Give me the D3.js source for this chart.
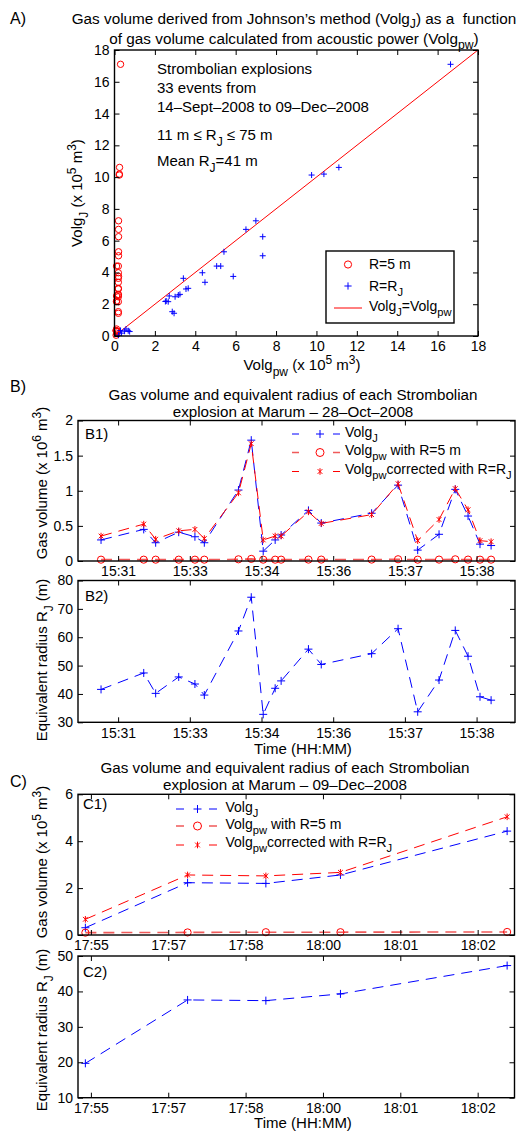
<!DOCTYPE html>
<html><head><meta charset="utf-8">
<script src="https://cdn.jsdelivr.net/npm/d3@7"></script>
<style>
body{margin:0;background:#fff}
svg{display:block;background:#fff}
text{font-family:"Liberation Sans",Arial,Helvetica,sans-serif;white-space:pre;fill:#000}
</style>
</head><body>
<script>
// ================= DATA =================
// Panel A : all 33 events (x 10^5 m^3)
const aVolgPwCorr = [3.54,5.26,3.16,4.35,4.48,3.24,9.76,16.64,2.95,3.65,3.41,7.0,5.42,6.51,11.11,2.86,5.88,10.37,7.34,3.0,2.66,
                     0.68,2.56,2.52,2.71,5.06, 7.34,0.2,0.35,0.3,0.5,0.57,0.75];
const aVolgJ      = [2.96,4.40,2.58,3.98,3.38,2.62,10.13,17.1,1.43,3.0,3.63,7.25,5.30,6.71,10.61,1.53,3.75,10.19,6.25,2.47,2.16,
                     0.33,2.2,2.17,2.52,4.40, 5.05,0.05,0.18,0.35,0.3,0.44,0.28];
const aVolgPw5    = [0.19,0.19,0.19,0.19,0.19,0.19,0.24,0.3,0.19,0.19,0.19,0.2,0.2,0.2,0.25,0.19,0.2,0.24,0.2,0.19,0.19,
                     0.08,0.1,0.1,0.1,0.1, 0.2,0.08,0.1,0.08,0.12,0.1,0.12];
const aTicks = [0,2,4,6,8,10,12,14,16,18];

// Panel B : Marum 28-Oct-2008
const bTimes = ["15:31:04","15:31:54","15:32:08","15:32:35","15:32:54","15:33:05","15:33:45","15:34:00","15:34:14","15:34:28","15:34:35",
                "15:35:07","15:35:22","15:36:21","15:36:52","15:37:15","15:37:40","15:37:59","15:38:14","15:38:28","15:38:41"];
const bVolgJ      = [0.30,0.45,0.26,0.41,0.345,0.26,1.01,1.72,0.14,0.30,0.37,0.72,0.54,0.68,1.08,0.155,0.38,1.02,0.64,0.24,0.22]; // x10^6
const bVolgPw5    = [0.019,0.019,0.019,0.019,0.019,0.019,0.024,0.03,0.019,0.019,0.019,0.02,0.02,0.02,0.025,0.019,0.02,0.024,0.02,0.019,0.019];
const bVolgPwCorr = [0.355,0.525,0.31,0.43,0.45,0.32,0.97,1.67,0.30,0.355,0.355,0.70,0.535,0.66,1.10,0.29,0.59,1.03,0.73,0.29,0.275];
const bRadius     = [41.6,47.4,40.2,46.0,43.5,39.6,62.2,74.1,32.8,42.0,44.6,55.8,50.4,54.2,63.0,33.7,44.9,62.4,53.3,39.0,37.8];
const bTimeDomain = ["15:30:37","15:39:09"];
const bTickTimes  = ["15:31:24","15:32:48","15:34:12","15:35:36","15:37:00","15:38:24"];
const bTickLabels = ["15:31","15:33","15:34","15:36","15:37","15:38"];
const b1Ticks = [0,0.5,1,1.5,2];
const b2Ticks = [30,40,50,60,70,80];

// Panel C : Marum 09-Dec-2008
const cTimes = ["17:55:18","17:57:09","17:58:34","17:59:55","18:02:56"];
const cVolgJ      = [0.31,2.23,2.20,2.56,4.43]; // x10^5
const cVolgPw5    = [0.10,0.11,0.12,0.12,0.13];
const cVolgPwCorr = [0.67,2.56,2.52,2.67,5.04];
const cRadius     = [19.7,37.6,37.4,39.3,47.3];
const cTimeDomain = ["17:55:10","18:03:04"];
const cTickTimes  = ["17:55:24","17:56:48","17:58:12","17:59:36","18:01:00","18:02:24"];
const cTickLabels = ["17:55","17:57","17:58","18:00","18:01","18:02"];
const c1Ticks = [0,2,4,6];
const c2Ticks = [10,20,30,40,50];

// ================= DRAWING =================
const W = 517, H = 1131;
const BLUE = "#0000ff", RED = "#ff0000", PINK = "#f05a5a";
const svg = d3.select("body").append("svg").attr("width", W).attr("height", H);
const parseT = d3.timeParse("%H:%M:%S");

function tex(sel, str, size, subShift) {
  const parts = str.split(/(_\{[^}]*\}|\^\{[^}]*\})/).filter(s => s.length);
  let cur = 0;
  parts.forEach(p => {
    let mode = 0, t = p;
    if (p.startsWith("_{")) { mode = 1; t = p.slice(2, -1); }
    else if (p.startsWith("^{")) { mode = -1; t = p.slice(2, -1); }
    const target = mode === 1 ? size * (subShift || 0.38) : mode === -1 ? -size * 0.42 : 0;
    sel.append("tspan").attr("dy", target - cur).attr("font-size", mode ? size * 0.8 : size).text(t);
    cur = target;
  });
}
function label(x, y, str, size, anchor, rot, subShift) {
  const t = svg.append("text").attr("font-size", size).attr("text-anchor", anchor || "start");
  if (rot) t.attr("transform", `translate(${x},${y}) rotate(${rot})`);
  else t.attr("x", x).attr("y", y);
  tex(t, str, size, subShift);
  return t;
}

function axes(box, xs, ys, xTicks, xFmt, yTicks) {
  const g = svg.append("g");
  const style = sel => { sel.select(".domain").remove(); sel.attr("font-size", 14).attr("font-family", null);
    sel.selectAll("line").attr("stroke", "#000"); };
  g.append("g").attr("transform", `translate(0,${box.y1})`)
    .call(d3.axisBottom(xs).tickValues(xTicks).tickFormat(xFmt).tickSize(-5).tickPadding(5.5)).call(style);
  g.append("g").attr("transform", `translate(0,${box.y0})`)
    .call(d3.axisTop(xs).tickValues(xTicks).tickFormat("").tickSize(-5)).call(style);
  g.append("g").attr("transform", `translate(${box.x0},0)`)
    .call(d3.axisLeft(ys).tickValues(yTicks).tickFormat(d => String(d)).tickSize(-5).tickPadding(5)).call(style);
  g.append("g").attr("transform", `translate(${box.x1},0)`)
    .call(d3.axisRight(ys).tickValues(yTicks).tickFormat("").tickSize(-5)).call(style);
  g.selectAll("text").attr("fill", "#000");
  g.append("rect").attr("x", box.x0).attr("y", box.y0).attr("width", box.x1 - box.x0).attr("height", box.y1 - box.y0)
    .attr("fill", "none").attr("stroke", "#000").attr("stroke-width", 1.4);
}

function plus(g, x, y, s, c) {
  g.append("path").attr("d", `M${x - s},${y}H${x + s}M${x},${y - s}V${y + s}`).attr("stroke", c).attr("stroke-width", 1).attr("fill", "none");
}
function star(g, x, y, s, c) {
  const d = s * 0.72;
  g.append("path").attr("d", `M${x - d},${y - d}L${x + d},${y + d}M${x - d},${y + d}L${x + d},${y - d}M${x},${y - s}V${y + s}`)
    .attr("stroke", c).attr("stroke-width", 1).attr("fill", "none");
}
function circ(g, x, y, r, c) {
  g.append("circle").attr("cx", x).attr("cy", y).attr("r", r).attr("fill", "none").attr("stroke", c).attr("stroke-width", 1);
}

function series(g, xs, ys, times, vals, color, width, dash, marker, msize) {
  const pts = times.map((t, i) => [xs(parseT(t)), ys(vals[i])]);
  g.append("path").attr("d", d3.line()(pts)).attr("fill", "none").attr("stroke", color)
    .attr("stroke-width", width).attr("stroke-dasharray", dash);
  pts.forEach(p => marker(g, p[0], p[1], msize, color === PINK ? RED : color));
}

function legendRow(x0, xm, x1, yLine, yText, color, width, marker, msize, str, gapDash) {
  const g = svg.append("g");
  g.append("line").attr("x1", x0).attr("x2", x1).attr("y1", yLine).attr("y2", yLine)
    .attr("stroke", color).attr("stroke-width", width).attr("stroke-dasharray", gapDash);
  marker(g, xm, yLine, msize, color === PINK ? RED : color);
  label(x1 + 5, yText, str, 14, "start");
}

// ---------- Panel A ----------
const A = {x0: 114.5, x1: 478, y0: 50, y1: 336};
const ax = d3.scaleLinear().domain([0, 18]).range([A.x0, A.x1]);
const ay = d3.scaleLinear().domain([0, 18]).range([A.y1, A.y0]);
const gA = svg.append("g");
gA.append("line").attr("x1", ax(0)).attr("y1", ay(0)).attr("x2", ax(18)).attr("y2", ay(18)).attr("stroke", RED).attr("stroke-width", 1);
aVolgPw5.forEach((v, i) => circ(gA, ax(v), ay(aVolgJ[i]), 3.2, RED));
aVolgPwCorr.forEach((v, i) => plus(gA, ax(v), ay(aVolgJ[i]), 3, BLUE));
axes(A, ax, ay, aTicks, d => String(d), aTicks);

label(10, 24, "A)", 16, "start");
label(294, 23.5, "Gas volume derived from Johnson’s method (Volg_{J}) as a  function", 15.3, "middle", null, 0.28);
label(294, 44, "of gas volume calculated from acoustic power (Volg_{pw})", 15.3, "middle", null, 0.3);
label(157, 74, "Strombolian explosions", 15, "start");
label(157, 93, "33 events from", 15, "start");
label(157, 112, "14–Sept–2008 to 09–Dec–2008", 15, "start");
label(157, 140, "11 m ≤ R_{J} ≤ 75 m", 15, "start");
label(157, 166, "Mean R_{J}=41 m", 15, "start");
label(82, 193, "Volg_{J} (x 10^{5} m^{3})", 15, "middle", -90);
label(302, 370, "Volg_{pw} (x 10^{5} m^{3})", 15, "middle");

// legend A
svg.append("rect").attr("x", 326).attr("y", 251).attr("width", 128).attr("height", 72)
  .attr("fill", "#fff").attr("stroke", "#000").attr("stroke-width", 1.4);
circ(svg, 348, 264.5, 3.6, RED);
label(369, 269, "R=5 m", 14, "start");
plus(svg, 348, 286, 3.6, BLUE);
label(369, 291, "R=R_{J}", 14, "start");
svg.append("line").attr("x1", 334).attr("x2", 362).attr("y1", 308).attr("y2", 308).attr("stroke", RED).attr("stroke-width", 1);
label(369, 311, "Volg_{J}=Volg_{pw}", 14, "start");

// ---------- Panel B ----------
const B1 = {x0: 78, x1: 515, y0: 420.5, y1: 561};
const B2 = {x0: 78, x1: 515, y0: 580.5, y1: 722.3};
const bx = d3.scaleTime().domain(bTimeDomain.map(parseT)).range([B1.x0, B1.x1]);
const b1y = d3.scaleLinear().domain([0, 2]).range([B1.y1, B1.y0]);
const b2y = d3.scaleLinear().domain([30, 80]).range([B2.y1, B2.y0]);
const bTicksT = bTickTimes.map(parseT);
const bFmt = (d, i) => bTickLabels[i];
const DASH = "11,7";

const gB1 = svg.append("g");
series(gB1, bx, b1y, bTimes, bVolgJ, BLUE, 1, DASH, plus, 4);
series(gB1, bx, b1y, bTimes, bVolgPw5, PINK, 1.6, DASH, circ, 3.6);
series(gB1, bx, b1y, bTimes, bVolgPwCorr, RED, 1, DASH, star, 3.3);
axes(B1, bx, b1y, bTicksT, bFmt, b1Ticks);

const gB2 = svg.append("g");
series(gB2, bx, b2y, bTimes, bRadius, BLUE, 1, DASH, plus, 4);
axes(B2, bx, b2y, bTicksT, bFmt, b2Ticks);

label(10, 392, "B)", 16, "start");
label(293, 399.5, "Gas volume and equivalent radius of each Strombolian", 15.2, "middle");
label(293, 417, "explosion at Marum – 28–Oct–2008", 15.2, "middle");
label(85, 439, "B1)", 15, "start");
label(85, 601, "B2)", 15, "start");
label(47, 483, "Gas volume (x 10^{6} m^{3})", 15, "middle", -90);
label(47, 660, "Equivalent radius R_{J} (m)", 15, "middle", -90);
label(303, 753.5, "Time (HH:MM)", 15, "middle");

legendRow(292, 320, 340, 434, 437, BLUE, 1, plus, 4, "Volg_{J}", "7,34");
legendRow(292, 320, 340, 452.5, 455, PINK, 1.6, circ, 4, "Volg_{pw} with R=5 m", "7,34");
legendRow(292, 320, 340, 471.5, 474, RED, 1, star, 3.3, "Volg_{pw}corrected with R=R_{J}", "7,34");

// ---------- Panel C ----------
const C1 = {x0: 78, x1: 514.5, y0: 794.3, y1: 935};
const C2 = {x0: 78, x1: 514.5, y0: 956, y1: 1097.7};
const cx = d3.scaleTime().domain(cTimeDomain.map(parseT)).range([C1.x0, C1.x1]);
const c1y = d3.scaleLinear().domain([0, 6]).range([C1.y1, C1.y0]);
const c2y = d3.scaleLinear().domain([10, 50]).range([C2.y1, C2.y0]);
const cTicksT = cTickTimes.map(parseT);
const cFmt = (d, i) => cTickLabels[i];

const gC1 = svg.append("g");
series(gC1, cx, c1y, cTimes, cVolgJ, BLUE, 1, DASH, plus, 4);
series(gC1, cx, c1y, cTimes, cVolgPw5, PINK, 1.6, DASH, circ, 3.6);
series(gC1, cx, c1y, cTimes, cVolgPwCorr, RED, 1, DASH, star, 3.3);
axes(C1, cx, c1y, cTicksT, cFmt, c1Ticks);

const gC2 = svg.append("g");
series(gC2, cx, c2y, cTimes, cRadius, BLUE, 1, DASH, plus, 4);
axes(C2, cx, c2y, cTicksT, cFmt, c2Ticks);

label(10, 787, "C)", 16, "start");
label(285, 773, "Gas volume and equivalent radius of each Strombolian", 15.2, "middle");
label(285, 789.5, "explosion at Marum – 09–Dec–2008", 15.2, "middle");
label(83, 809, "C1)", 15, "start");
label(83, 977, "C2)", 15, "start");
label(47, 862, "Gas volume (x 10^{5} m^{3})", 15, "middle", -90);
label(47, 1030, "Equivalent radius R_{J} (m)", 15, "middle", -90);
label(303, 1128.3, "Time (HH:MM)", 15, "middle");

legendRow(176, 197.5, 220.5, 809, 811.5, BLUE, 1, plus, 4, "Volg_{J}", "8,25");
legendRow(176, 197.5, 220.5, 826, 829, PINK, 1.6, circ, 4, "Volg_{pw} with R=5 m", "8,25");
legendRow(176, 197.5, 220.5, 845, 847, RED, 1, star, 3.3, "Volg_{pw}corrected with R=R_{J}", "8,25");
</script>
</body></html>
